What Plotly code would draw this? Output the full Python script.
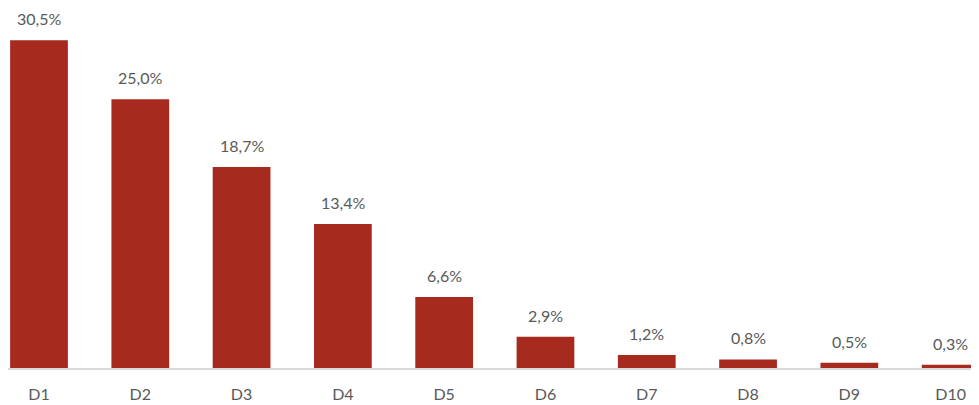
import plotly.graph_objects as go

categories = ["D1", "D2", "D3", "D4", "D5", "D6", "D7", "D8", "D9", "D10"]
values = [30.5, 25.0, 18.7, 13.4, 6.6, 2.9, 1.2, 0.8, 0.5, 0.3]
labels = [f"{v:.1f}%".replace(".", ",") for v in values]

BAR_COLOR = "#A62A1E"
TEXT_COLOR = "#595959"
FONT = "Lato, 'Open Sans', sans-serif"

# the page body adds an 8px margin, so the figure is sized to the visible area
fig = go.Figure(
    go.Bar(
        x=list(range(len(categories))),
        y=values,
        marker={"color": BAR_COLOR, "line": {"width": 0}},
        hoverinfo="skip",
    )
)

for i, (v, lab) in enumerate(zip(values, labels)):
    fig.add_annotation(
        x=i,
        y=v,
        text=lab,
        showarrow=False,
        yanchor="bottom",
        yshift=10,
        font={"family": FONT, "size": 16, "color": TEXT_COLOR},
    )

fig.update_layout(
    width=971,
    height=397,
    margin={"l": 0, "r": 0, "t": 0, "b": 37},
    paper_bgcolor="white",
    plot_bgcolor="white",
    bargap=0.43,
    showlegend=False,
    font={"family": FONT, "size": 16, "color": TEXT_COLOR},
)
fig.update_xaxes(
    range=[-0.306, 9.280],
    tickmode="array",
    tickvals=list(range(len(categories))),
    ticktext=categories,
    showline=True,
    linecolor="#d9d9d9",
    linewidth=1.5,
    showgrid=False,
    zeroline=False,
    ticks="",
    ticklabelstandoff=11,
)
fig.update_yaxes(
    range=[0, 33.49],
    visible=False,
    showgrid=False,
    zeroline=False,
)

fig.write_html("out.html")
